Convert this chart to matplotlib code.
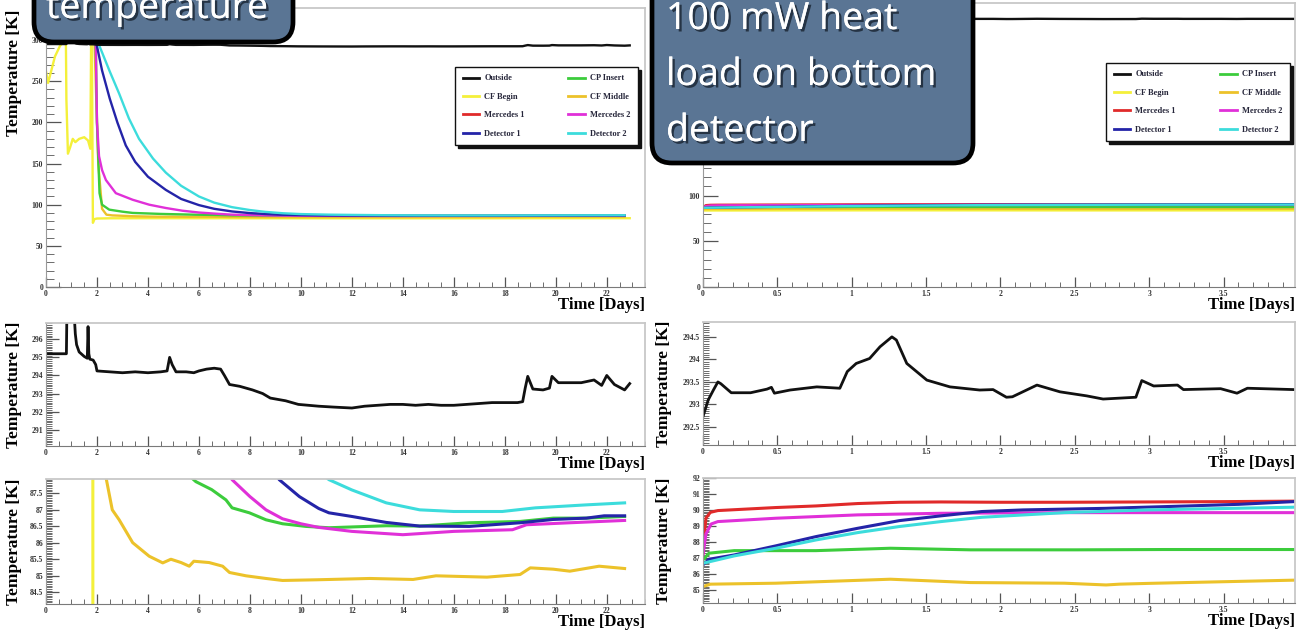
import matplotlib.pyplot as plt
import matplotlib.patheffects as pe
from matplotlib.lines import Line2D
from matplotlib.patches import FancyBboxPatch
from matplotlib.ticker import MultipleLocator, FuncFormatter
from matplotlib.transforms import IdentityTransform

plt.rcParams['font.family'] = 'Liberation Serif'
plt.rcParams['font.weight'] = 'bold'
plt.rcParams['axes.labelweight'] = 'bold'

W, H = 1301, 637

# ---- cooldown run (left column), time in days, temperature in K ----
t_out_c = [0, 0.8, 0.82, 0.9, 1.0, 1.1, 1.15, 1.2, 1.3, 1.5, 1.62, 1.65, 1.68, 1.72, 1.85, 1.95,
           2.0, 2.5, 3.0, 3.5, 4.0, 4.5, 4.75, 4.85, 4.95, 5.1, 5.5, 5.8, 6.0, 6.3, 6.6, 6.85,
           7.0, 7.2, 7.6, 8.1, 8.5, 8.8, 9.4, 9.9, 10.7, 11.3, 12.0, 12.5, 13.0, 13.5, 14.0,
           14.5, 15.0, 15.5, 16.0, 16.5, 17.0, 17.5, 18.0, 18.5, 18.7, 18.8, 18.9, 19.1, 19.5,
           19.75, 19.85, 20.1, 20.5, 21.0, 21.5, 21.8, 22.0, 22.3, 22.7, 22.9]
T_out_c = [295.2, 295.2, 297.5, 300.0, 299.0, 297.5, 296.3, 295.7, 295.3, 295.05, 294.95, 296.7,
           295.2, 294.9, 294.85, 294.6, 294.25, 294.2, 294.15, 294.2, 294.15, 294.2, 294.25,
           295.0, 294.6, 294.2, 294.2, 294.15, 294.25, 294.35, 294.4, 294.35, 294.0, 293.5,
           293.4, 293.2, 293.0, 292.75, 292.6, 292.4, 292.3, 292.25, 292.2, 292.3, 292.35,
           292.4, 292.4, 292.35, 292.4, 292.35, 292.35, 292.4, 292.45, 292.5, 292.5, 292.5,
           292.55, 293.3, 293.95, 293.25, 293.2, 293.3, 293.95, 293.6, 293.6, 293.6, 293.75,
           293.45, 294.0, 293.5, 293.2, 293.55]

t_cfb_c = [0, 0.08, 0.2, 0.35, 0.55, 0.7, 0.78, 0.8, 0.86, 0.95, 1.05, 1.15, 1.3, 1.5, 1.65,
           1.74, 1.77, 1.8, 1.84, 1.9, 2.0, 2.5, 4, 8, 12, 16, 20, 22.9]
T_cfb_c = [262, 248, 262, 280, 293, 298, 300, 228, 162, 170, 180, 176, 180, 182, 178, 168, 300,
           300, 78, 82.5, 83.2, 83.5, 83.6, 83.5, 83.5, 83.5, 83.6, 83.6]

t_cfm_c = [1.9, 1.95, 2.05, 2.2, 2.37, 2.6, 2.87, 3.4, 4.05, 4.58, 4.9, 5.3, 5.62, 5.8, 6.4,
           6.93, 7.2, 7.85, 8.63, 9.28, 10.6, 12.7, 14.4, 15.3, 17.3, 18.6, 19.0, 19.9, 20.55,
           21.7, 22.7]
T_cfm_c = [300, 250, 150, 95, 87.9, 86.99, 86.69, 86.0, 85.59, 85.39, 85.5, 85.4, 85.29, 85.44,
           85.4, 85.29, 85.1, 85.0, 84.92, 84.86, 84.88, 84.92, 84.89, 85.0, 84.96, 85.04, 85.24,
           85.2, 85.14, 85.29, 85.22]

t_cpi_c = [1.95, 2.0, 2.1, 2.2, 2.48, 3.0, 3.4, 4.5, 5.5, 5.88, 6.5, 7.06, 7.3, 7.98, 8.63,
           9.28, 10.2, 11.1, 13.35, 14.66, 16.6, 18.6, 19.9, 21.2, 22.7]
T_cpi_c = [300, 200, 114, 100, 94, 91.5, 90, 88.8, 88.1, 87.84, 87.6, 87.29, 87.05, 86.9, 86.69,
           86.57, 86.49, 86.45, 86.51, 86.5, 86.6, 86.64, 86.74, 86.74, 86.79]

t_me2_c = [1.95, 2.0, 2.08, 2.2, 2.35, 2.74, 3.4, 4.05, 4.7, 5.35, 6.0, 6.7, 7.3, 8.0, 8.63,
           9.28, 10.0, 10.7, 12.0, 14.0, 16.0, 18.3, 18.85, 20.55, 22.7]
T_me2_c = [300, 200, 159, 142, 130, 114, 106, 100, 96, 92.7, 90.5, 89, 87.9, 87.39, 86.99, 86.72,
           86.57, 86.46, 86.34, 86.24, 86.34, 86.39, 86.54, 86.6, 86.67]

t_det1_c = [1.95, 2.2, 2.5, 2.8, 3.13, 3.5, 4.0, 4.7, 5.3, 6.0, 6.6, 7.3, 8.0, 8.6, 9.15, 9.94,
            10.7, 11.1, 12.0, 13.35, 14.66, 16.6, 18.6, 19.9, 21.2, 21.9, 22.7]
T_det1_c = [300, 263, 229, 200, 172, 152, 134, 118, 107, 99.5, 95, 91.8, 89.8, 88.7, 87.9, 87.39,
            87.03, 86.9, 86.79, 86.61, 86.5, 86.49, 86.6, 86.7, 86.74, 86.81, 86.81]

t_det2_c = [2.0, 2.2, 2.5, 2.87, 3.25, 3.65, 4.2, 4.7, 5.3, 6.0, 6.6, 7.3, 8.0, 8.6, 9.3, 10.0,
            11.1, 12.0, 13.35, 14.66, 16.0, 17.9, 19.2, 21.2, 22.7]
T_det2_c = [300, 285, 262, 235, 205, 180, 156, 139, 123, 110, 102.5, 97, 93.5, 91.3, 89.6, 88.6,
            87.9, 87.59, 87.2, 86.99, 86.94, 86.94, 87.05, 87.14, 87.2]

# ---- 100 mW heat load run (right column) ----
t_out_h = [0, 0.035, 0.07, 0.1, 0.12, 0.19, 0.32, 0.43, 0.46, 0.48, 0.585, 0.765, 0.92, 0.97,
           1.03, 1.12, 1.19, 1.27, 1.30, 1.37, 1.505, 1.66, 1.86, 1.95, 2.04, 2.08, 2.245, 2.40,
           2.58, 2.69, 2.91, 2.95, 3.03, 3.19, 3.23, 3.48, 3.59, 3.66, 3.97]
T_out_h = [292.73, 293.1, 293.32, 293.5, 293.46, 293.26, 293.26, 293.34, 293.38, 293.25, 293.32,
           293.39, 293.36, 293.73, 293.91, 294.02, 294.28, 294.5, 294.43, 293.91, 293.54, 293.39,
           293.32, 293.33, 293.16, 293.17, 293.43, 293.28, 293.19, 293.12, 293.16, 293.53,
           293.41, 293.43, 293.33, 293.35, 293.25, 293.36, 293.33]

t_cfb_h = [0, 1.3, 2.5, 3.97]
T_cfb_h = [83.7, 83.9, 83.8, 83.8]

t_cfm_h = [0, 0.05, 0.49, 1.26, 1.8, 2.43, 2.71, 2.8, 3.0, 3.97]
T_cfm_h = [85.2, 85.35, 85.41, 85.66, 85.45, 85.41, 85.3, 85.35, 85.4, 85.6]

t_cpi_h = [0, 0.04, 0.21, 0.76, 1.26, 1.8, 2.5, 3.1, 3.97]
T_cpi_h = [86.87, 87.29, 87.45, 87.45, 87.6, 87.5, 87.5, 87.52, 87.52]

t_me1_h = [0, 0.01, 0.02, 0.05, 0.1, 0.49, 0.76, 1.04, 1.32, 1.6, 2.0, 2.43, 3.0, 3.5, 3.97]
T_me1_h = [87.3, 88.5, 89.5, 89.85, 89.96, 90.15, 90.25, 90.4, 90.48, 90.5, 90.48, 90.48, 90.5,
           90.52, 90.55]

t_me2_h = [0, 0.02, 0.055, 0.1, 0.49, 1.04, 1.6, 2.43, 3.97]
T_me2_h = [87.2, 88.5, 89.12, 89.27, 89.48, 89.69, 89.79, 89.83, 89.83]

t_det1_h = [0, 0.04, 0.21, 0.49, 0.76, 1.04, 1.32, 1.6, 1.875, 2.15, 2.71, 3.26, 3.6, 3.97]
T_det1_h = [86.56, 86.91, 87.18, 87.75, 88.33, 88.85, 89.33, 89.63, 89.9, 90.0, 90.1, 90.25,
            90.35, 90.52]

t_det2_h = [0, 0.21, 0.49, 0.76, 1.04, 1.32, 1.6, 1.875, 2.43, 2.99, 3.97]
T_det2_h = [86.66, 87.12, 87.6, 88.12, 88.58, 88.96, 89.27, 89.54, 89.83, 90.0, 90.17]

names = ['Outside', 'CF Begin', 'Mercedes 1', 'Detector 1',
         'CP Insert', 'CF Middle', 'Mercedes 2', 'Detector 2']
colors = {'Outside': '#111111', 'CF Begin': '#f4f03a', 'Mercedes 1': '#e02a2a',
          'Detector 1': '#2424a8', 'CP Insert': '#3ccc3c', 'CF Middle': '#ecc22a',
          'Mercedes 2': '#e030d8', 'Detector 2': '#3cdcdc'}

cool = {'Outside': (t_out_c, T_out_c), 'CF Begin': (t_cfb_c, T_cfb_c),
        'CF Middle': (t_cfm_c, T_cfm_c), 'CP Insert': (t_cpi_c, T_cpi_c),
        'Mercedes 2': (t_me2_c, T_me2_c), 'Detector 1': (t_det1_c, T_det1_c),
        'Detector 2': (t_det2_c, T_det2_c)}
heat = {'Outside': (t_out_h, T_out_h), 'CF Begin': (t_cfb_h, T_cfb_h),
        'CF Middle': (t_cfm_h, T_cfm_h), 'CP Insert': (t_cpi_h, T_cpi_h),
        'Mercedes 1': (t_me1_h, T_me1_h), 'Mercedes 2': (t_me2_h, T_me2_h),
        'Detector 1': (t_det1_h, T_det1_h), 'Detector 2': (t_det2_h, T_det2_h)}
draw_order = ['CF Begin', 'CF Middle', 'CP Insert', 'Mercedes 1', 'Mercedes 2',
              'Detector 1', 'Detector 2', 'Outside']

fig = plt.figure(figsize=(W / 100, H / 100), dpi=100)


def pad_axes(x0, y0, x1, y1):
    return fig.add_axes([x0 / W, 1 - y1 / H, (x1 - x0) / W, (y1 - y0) / H])


def style(ax, box, xlim, ylim, xmaj, xmin, ymaj, ymin, ylen, ylab_dx, ytop, ylabel=True,
          ylab_max=None):
    x0, y0, x1, y1 = box
    ax.set_xlim(*xlim)
    ax.set_ylim(*ylim)
    ax.xaxis.set_major_locator(MultipleLocator(xmaj))
    ax.xaxis.set_minor_locator(MultipleLocator(xmin))
    ax.yaxis.set_major_locator(MultipleLocator(ymaj))
    ax.yaxis.set_minor_locator(MultipleLocator(ymin))
    ax.xaxis.set_major_formatter(FuncFormatter(lambda v, p: f'{v:g}'))
    if ylab_max is None:
        ax.yaxis.set_major_formatter(FuncFormatter(lambda v, p: f'{v:g}'))
    else:
        # labels above ylab_max sit under the callout box
        ax.yaxis.set_major_formatter(FuncFormatter(lambda v, p: f'{v:g}' if v <= ylab_max else ''))
    ax.tick_params(which='both', direction='in', top=False, right=False,
                   colors='#555555', labelcolor='#333333', labelsize=5.5, pad=2)
    ax.tick_params(axis='y', which='major', length=ylen, width=0.9)
    ax.tick_params(axis='y', which='minor', length=ylen / 2, width=0.6)
    ax.tick_params(axis='x', which='major', length=7, width=0.9)
    ax.tick_params(axis='x', which='minor', length=3.5, width=0.6)
    for s in ('top', 'right'):
        ax.spines[s].set_color('#c8c8c8')
        ax.spines[s].set_linewidth(1.3)
    ax.spines['left'].set_color('#9a9a9a')
    ax.spines['bottom'].set_color('#7a7a7a')
    ax.set_xlabel('Time [Days]', fontsize=12, ha='right', va='top')
    ax.xaxis.set_label_coords(1.0, -10 / (y1 - y0))
    if not ylabel:
        return
    if ytop:
        ax.set_ylabel('Temperature [K]', fontsize=12.5, loc='top')
        ax.yaxis.set_label_coords(ylab_dx / (x1 - x0), 1 - 2 / (y1 - y0))
    else:
        ax.set_ylabel('Temperature [K]', fontsize=12.5)
        ax.yaxis.set_label_coords(ylab_dx / (x1 - x0), 0.5)


def curves(ax, series, lw):
    for name in draw_order:
        if name in series:
            t, T = series[name]
            ax.plot(t, T, color=colors[name], lw=lw, solid_joinstyle='round')


def legend(ax, box, lx0, ly0, lx1):
    x0, y0, x1, y1 = box
    handles = [Line2D([], [], color=colors[n], lw=2) for n in names]
    bb = ((lx0 - x0) / (x1 - x0), 0, (lx1 - lx0) / (x1 - x0), 1 - (ly0 - y0) / (y1 - y0))
    leg = ax.legend(handles, names, ncol=2, loc='upper left', bbox_to_anchor=bb, mode='expand',
                    fontsize=6, frameon=True, fancybox=False, shadow={'color': '#111111', 'alpha': 1},
                    handlelength=2.0, handletextpad=0.6, labelspacing=1.25, borderpad=0.9,
                    columnspacing=0.8, borderaxespad=0)
    leg.get_frame().set_edgecolor('#111111')
    leg.get_frame().set_linewidth(1.0)
    for txt in leg.get_texts():
        txt.set_color('#26263a')


left_x = (46, 645)
right_x = (703, 1295)

# cooldown: overview, outside zoom, cold-stage zoom
b = (left_x[0], 8, left_x[1], 287)
ax = pad_axes(*b)
curves(ax, cool, 1.7)
style(ax, b, (0, 23.5), (0, 339), 2, 0.5, 50, 10, 11, -24, True)
legend(ax, b, 455, 67, 638)

b = (left_x[0], 323, left_x[1], 446)
ax = pad_axes(*b)
ax.plot(t_out_c, T_out_c, color=colors['Outside'], lw=2.0)
style(ax, b, (0, 23.5), (290.1, 296.9), 2, 0.5, 1, 0.1, 9, -24, False)

b = (left_x[0], 479, left_x[1], 604)
ax = pad_axes(*b)
curves(ax, {k: v for k, v in cool.items() if k != 'Outside'}, 2.2)
style(ax, b, (0, 23.5), (84.15, 87.92), 2, 0.5, 0.5, 0.05, 9, -24, False)

# heat load: overview, outside zoom, cold-stage zoom
b = (right_x[0], 3, right_x[1], 287)
ax = pad_axes(*b)
curves(ax, heat, 1.7)
style(ax, b, (0, 3.98), (0, 310.7), 0.5, 0.1, 50, 10, 11, -31, True, ylabel=False,
      ylab_max=100)
legend(ax, b, 1106, 63, 1290)

b = (right_x[0], 322, right_x[1], 445)
ax = pad_axes(*b)
ax.plot(t_out_h, T_out_h, color=colors['Outside'], lw=2.0)
style(ax, b, (0, 3.98), (292.1, 294.83), 0.5, 0.1, 0.5, 0.05, 9, -31, False)

b = (right_x[0], 478, right_x[1], 603)
ax = pad_axes(*b)
curves(ax, {k: v for k, v in heat.items() if k != 'Outside'}, 2.2)
style(ax, b, (0, 3.98), (84.17, 92.0), 0.5, 0.1, 1, 0.1, 9, -31, False)

# callout boxes on top of the plots
shadow = [pe.withSimplePatchShadow(offset=(1.8, -1.8), shadow_rgbFace='#1c2836', alpha=0.85),
          pe.Normal()]


def callout(x0, y0, x1, y1, lines):
    box = FancyBboxPatch((x0, H - y1), x1 - x0, y1 - y0,
                         boxstyle='round,pad=0,rounding_size=20',
                         transform=IdentityTransform(), facecolor='#5a7594',
                         edgecolor='black', linewidth=3.4, zorder=4)
    fig.patches.append(box)
    for tx, ty, s in lines:
        fig.text(tx / W, 1 - ty / H, s, fontsize=27, family='Open Sans', fontweight='normal',
                 color='white', ha='left', va='baseline', path_effects=shadow, zorder=5)


callout(34, -40, 293, 42, [(46, 18, 'temperature')])
callout(652, -40, 973, 163, [(666, 29, '100 mW heat'), (666, 85, 'load on bottom'),
                             (666, 141, 'detector')])

fig.savefig('out.png', dpi=100)
